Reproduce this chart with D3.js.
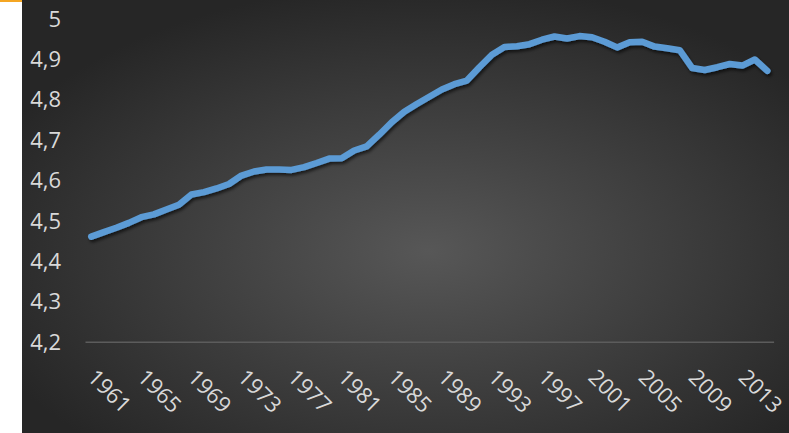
<!DOCTYPE html>
<html>
<head>
<meta charset="utf-8">
<script src="https://cdn.jsdelivr.net/npm/d3@7"></script>
<style>
  html, body { margin: 0; padding: 0; background: #ffffff; }
  svg { display: block; }
</style>
</head>
<body>
<svg id="chart" width="789" height="433"></svg>
<script>
// ---- data ----
const years = [
  1961,1962,1963,1964,1965,1966,1967,1968,1969,1970,
  1971,1972,1973,1974,1975,1976,1977,1978,1979,1980,
  1981,1982,1983,1984,1985,1986,1987,1988,1989,1990,
  1991,1992,1993,1994,1995,1996,1997,1998,1999,2000,
  2001,2002,2003,2004,2005,2006,2007,2008,2009,2010,
  2011,2012,2013,2014,2015
];
const values = [
  4.460,4.471,4.482,4.494,4.508,4.515,4.527,4.539,4.564,4.570,
  4.579,4.590,4.611,4.621,4.626,4.626,4.625,4.632,4.642,4.653,
  4.654,4.673,4.683,4.712,4.743,4.769,4.788,4.806,4.824,4.837,
  4.846,4.879,4.910,4.929,4.931,4.936,4.947,4.955,4.950,4.956,
  4.953,4.942,4.928,4.941,4.942,4.930,4.926,4.921,4.877,4.872,
  4.879,4.887,4.883,4.898,4.870
];
const yTicks = [4.2,4.3,4.4,4.5,4.6,4.7,4.8,4.9,5.0];
const xTickYears = [1961,1965,1969,1973,1977,1981,1985,1989,1993,1997,2001,2005,2009,2013];

// ---- layout ----
const W = 789, H = 433;
const panelX = 22;
const plot = { left: 85, right: 773.6, top: 18.3, bottom: 341.7 };

const svg = d3.select("#chart");
const defs = svg.append("defs");

const grad = defs.append("radialGradient")
  .attr("id", "bg").attr("cx", "53%").attr("cy", "58%").attr("r", "62%");
grad.append("stop").attr("offset", "0%").attr("stop-color", "#575757");
grad.append("stop").attr("offset", "100%").attr("stop-color", "#262626");

const sh = defs.append("filter").attr("id", "shadow")
  .attr("x", "-5%").attr("y", "-5%").attr("width", "110%").attr("height", "120%");
sh.append("feDropShadow").attr("dx", 1.5).attr("dy", 2.5)
  .attr("stdDeviation", 1.6).attr("flood-color", "#000").attr("flood-opacity", 0.6);

// white strip + orange mark
svg.append("rect").attr("x", 0).attr("y", 0).attr("width", W).attr("height", H).attr("fill", "#ffffff");
svg.append("rect").attr("x", 0).attr("y", 0).attr("width", panelX).attr("height", 2).attr("fill", "#f5a623");
svg.append("rect").attr("x", panelX).attr("y", 0).attr("width", W - panelX).attr("height", H).attr("fill", "url(#bg)");

// scales
const x = d3.scaleBand().domain(years).range([plot.left, plot.right]).padding(0);
const y = d3.scaleLinear().domain([4.2, 5.0]).range([plot.bottom, plot.top]);
const cx = d => x(d) + x.bandwidth() / 2;

const font = "'Open Sans', 'Noto Sans', sans-serif";

// y axis labels
const yAxis = d3.axisLeft(y).tickValues(yTicks)
  .tickFormat(d => d3.format(".1f")(d).replace(".", ",").replace(/,0$/, ""))
  .tickSize(0).tickPadding(0);
const gy = svg.append("g").attr("transform", `translate(61,0)`).call(yAxis);
gy.select(".domain").remove();
gy.selectAll("text").attr("fill", "#d9d9d9").attr("font-family", font)
  .attr("font-size", 22).attr("dy", "0.35em");

// x axis line
const xAxis = d3.axisBottom(x).tickValues(xTickYears).tickSize(0).tickFormat(d => d);
const gx = svg.append("g").attr("transform", `translate(0,${plot.bottom})`).call(xAxis);
gx.select(".domain").attr("stroke", "#5c5c5c").attr("stroke-width", 1.5);
gx.selectAll(".tick text")
  .attr("fill", "#d9d9d9").attr("font-family", font).attr("font-size", 22)
  .attr("text-anchor", "start").attr("dy", null).attr("y", null)
  .attr("transform", "translate(-5,37) rotate(45)");

// line
const line = d3.line().x((d, i) => cx(years[i])).y(d => y(d));
svg.append("path").datum(values)
  .attr("d", line)
  .attr("fill", "none").attr("stroke", "#5b9bd5").attr("stroke-width", 6.5)
  .attr("stroke-linejoin", "round").attr("stroke-linecap", "round")
  .attr("filter", "url(#shadow)");
</script>
</body>
</html>
